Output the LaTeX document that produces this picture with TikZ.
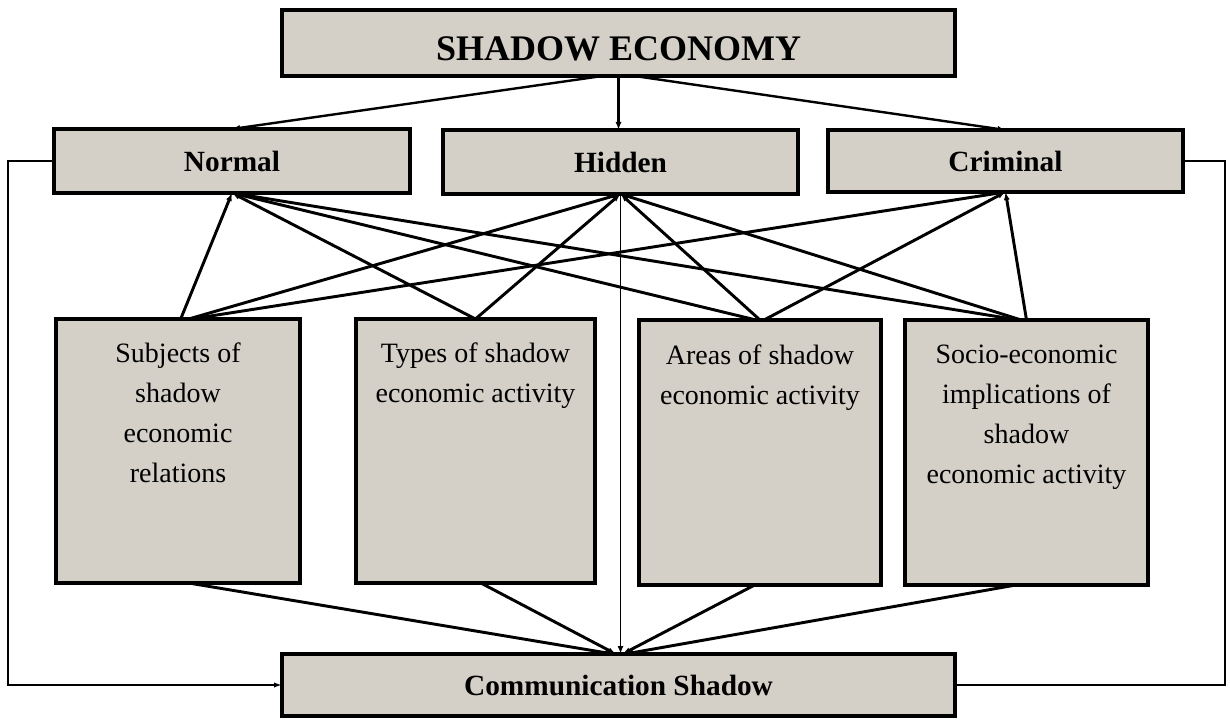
\documentclass[tikz,border=0pt]{standalone}
\usepackage{fontspec}
\setmainfont{Liberation Serif}
\usetikzlibrary{arrows.meta,calc}
\definecolor{boxgray}{RGB}{212,208,200}
\begin{document}
\begin{tikzpicture}[x=0.75pt,y=-0.75pt,
  bx/.style={draw=black, line width=3.3pt, fill=boxgray, inner sep=0pt, outer sep=0pt},
  head/.style={bx, font=\fontsize{22}{26}\selectfont\bfseries},
  txt/.style={inner sep=0pt, align=center, font=\fontsize{21}{30}\selectfont},
  arr/.style={line width=2.2pt, -{Latex[length=6pt,width=4.5pt]}},
  toparr/.style={line width=1.8pt, -{Latex[length=6pt,width=4.5pt]}},
  thin/.style={line width=1.4pt}
]
\useasboundingbox (0,0) rectangle (1230,720);

% boxes
\node[bx, minimum width=673*0.75pt, minimum height=66*0.75pt,
      font=\fontsize{27}{30}\selectfont\bfseries, text height=27pt, text depth=0pt]
      (se) at (618.5,43) {SHADOW ECONOMY};
\node[head, minimum width=356*0.75pt, minimum height=64*0.75pt] (normal) at (232,161) {Normal};
\node[head, minimum width=355*0.75pt, minimum height=64*0.75pt] (hidden) at (620.5,162) {Hidden};
\node[head, minimum width=355*0.75pt, minimum height=62*0.75pt] (criminal) at (1005.5,161) {Criminal};

\node[bx, minimum width=244*0.75pt, minimum height=264*0.75pt] (subj) at (178,451) {};
\node[bx, minimum width=239*0.75pt, minimum height=264*0.75pt] (types) at (475.5,451) {};
\node[bx, minimum width=242*0.75pt, minimum height=265*0.75pt] (areas) at (760,452.5) {};
\node[bx, minimum width=243*0.75pt, minimum height=265*0.75pt] (socio) at (1026.5,452.5) {};

\node[head, minimum width=673*0.75pt, minimum height=62*0.75pt] (comm) at (618.5,685) {Communication Shadow};

% texts
\node[txt, anchor=north] (subjt) at (178,343) {Subjects of\\shadow\\economic\\relations};
\node[txt, anchor=north] (typest) at (475.5,343) {Types of shadow\\economic activity};
\node[txt, anchor=north] (areast) at (760,345) {Areas of shadow\\economic activity};
\node[txt, anchor=north] (sociot) at (1026.5,345) {Socio-economic\\implications of\\shadow\\economic activity};

% top arrows
\draw[toparr] ([xshift=-12pt]se.south) -- (normal.north);
\draw[toparr] (se.south) -- (se.south |- hidden.north);
\draw[toparr] ([xshift=12pt]se.south) -- (criminal.north);

% lower boxes to middle row
\draw[arr] ([xshift=2pt]subj.north) -- (normal.south);
\draw[arr] ([xshift=8pt]subj.north) -- (hidden.south);
\draw[arr] ([xshift=10pt]subj.north) -- (criminal.south);
\draw[arr] (types.north) -- (normal.south);
\draw[arr] (types.north) -- (hidden.south);
\draw[arr] ([xshift=-3pt]areas.north) -- (normal.south);
\draw[arr] (areas.north) -- (hidden.south);
\draw[arr] ([xshift=3pt]areas.north) -- (criminal.south);
\draw[arr] ([xshift=-6pt]socio.north) -- (normal.south);
\draw[arr] ([xshift=-4pt]socio.north) -- (hidden.south);
\draw[arr] (socio.north) -- (criminal.south);

% lower boxes to communication shadow
\draw[arr] ([xshift=8pt]subj.south) -- ([xshift=-4pt]comm.north);
\draw[arr] ([xshift=4pt]types.south) -- ([xshift=-2pt]comm.north);
\draw[arr] ([xshift=-4pt]areas.south) -- ([xshift=3pt]comm.north);
\draw[arr] ([xshift=-8pt]socio.south) -- ([xshift=5pt]comm.north);

% vertical line hidden - comm
\draw[thin, -{Latex[length=6pt,width=4.5pt]}] (hidden.south) -- (hidden.south |- comm.north);

% side connectors
\coordinate (lx) at (8,0);
\coordinate (rx) at (1225,0);
\draw[thin, -{Latex[length=6pt,width=4pt]}] (normal.west) -- (normal.west -| lx) -- (lx |- comm.west) -- (comm.west);
\draw[thin] (criminal.east) -- (criminal.east -| rx) -- (rx |- comm.east) -- (comm.east);
\end{tikzpicture}
\end{document}
